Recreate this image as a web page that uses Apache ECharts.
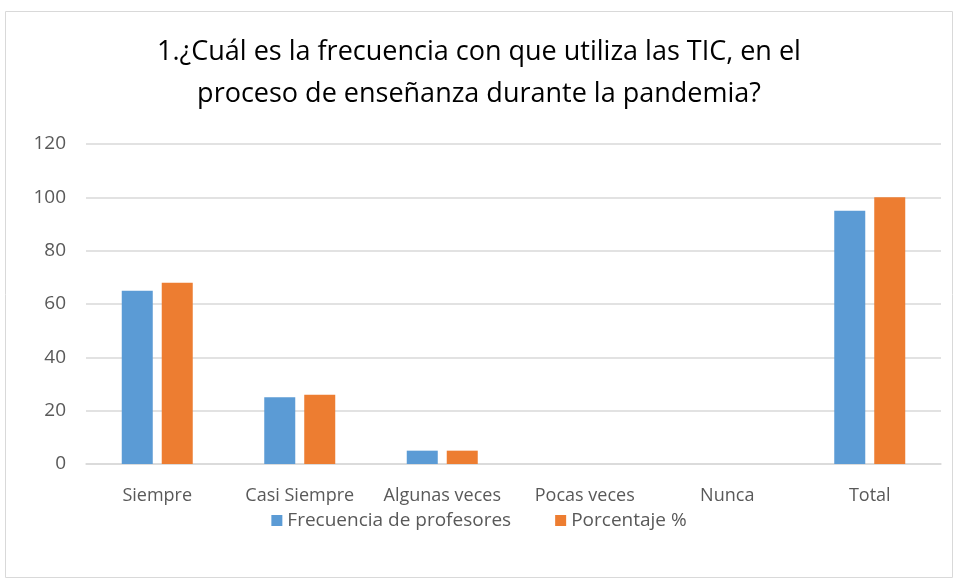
<!DOCTYPE html>
<html>
<head>
<meta charset="utf-8">
<script src="https://cdn.jsdelivr.net/npm/echarts@6/dist/echarts.min.js"></script>
<style>
  html, body { margin: 0; padding: 0; background: #fff; }
  #chart { width: 958px; height: 583px; }
</style>
</head>
<body>
<div id="chart"></div>
<script>
const categories = ['Siempre', 'Casi Siempre', 'Algunas veces', 'Pocas veces', 'Nunca', 'Total'];
const frecuencia = [65, 25, 5, 0, 0, 95];
const porcentaje = [68, 26, 5, 0, 0, 100];
const seriesNames = ['Frecuencia de profesores', 'Porcentaje %'];

const font = 'Open Sans';
const chart = echarts.init(document.getElementById('chart'));

chart.setOption({
  color: ['#5B9BD5', '#ED7D31'],
  graphic: [{
    type: 'rect',
    shape: { x: 5.5, y: 11.5, width: 947, height: 566 },
    style: { fill: 'none', stroke: '#d9d9d9', lineWidth: 1 },
    silent: true,
  }],
  title: {
    text: '1.¿Cuál es la frecuencia con que utiliza las TIC, en el\nproceso de enseñanza durante la pandemia?',
    left: 'center',
    top: 26,
    textStyle: {
      fontFamily: font,
      fontSize: 27,
      fontWeight: 'normal',
      color: '#000',
      lineHeight: 42,
    },
  },
  legend: {
    data: seriesNames,
    bottom: 48,
    left: 'center',
    itemWidth: 11,
    itemHeight: 11,
    itemGap: 44,
    icon: 'rect',
    textStyle: { fontFamily: font, fontSize: 19, color: '#595959' },
  },
  grid: { left: 86, right: 17, top: 144, bottom: 119, containLabel: false },
  xAxis: {
    type: 'category',
    data: categories,
    axisLine: { lineStyle: { color: '#d9d9d9', width: 1.5 } },
    axisTick: { show: false },
    axisLabel: {
      fontFamily: font,
      fontSize: 18,
      color: '#595959',
      margin: 23,
      interval: 0,
      hideOverlap: false,
    },
  },
  yAxis: {
    type: 'value',
    min: 0,
    max: 120,
    interval: 20,
    axisLine: { show: false },
    axisTick: { show: false },
    splitLine: { lineStyle: { color: '#d9d9d9', width: 1.5 } },
    axisLabel: { fontFamily: font, fontSize: 19, color: '#595959', margin: 20 },
  },
  series: [
    {
      name: seriesNames[0],
      type: 'bar',
      data: frecuencia,
      barWidth: 31,
      barGap: '29%',
    },
    {
      name: seriesNames[1],
      type: 'bar',
      data: porcentaje,
      barWidth: 31,
    },
  ],
});
</script>
</body>
</html>
